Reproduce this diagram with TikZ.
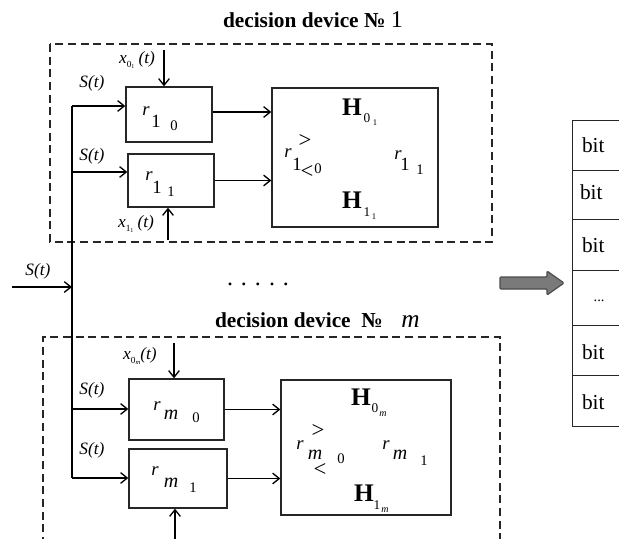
\documentclass[tikz,border=0pt]{standalone}
\usepackage{fontspec}
\setmainfont{Liberation Serif}
\usetikzlibrary{calc,arrows.meta}
\begin{document}
\begin{tikzpicture}[x=0.75pt,y=-0.75pt,
  box/.style={draw=black!85, line width=1pt, inner sep=0pt},
  arr/.style={-{Straight Barb[length=5pt,width=8pt]}, line width=1pt},
  frame/.style={draw=black!85, dash pattern=on 6pt off 3.5pt, line width=0.9pt},
  gl/.style={inner sep=0pt, outer sep=0pt},
  ri/.style={gl, font=\fontsize{14}{15}\selectfont\itshape},
  mi/.style={gl, font=\fontsize{15}{16}\selectfont\itshape},
  dg/.style={gl, font=\fontsize{14}{15}\selectfont},
  sd/.style={gl, font=\fontsize{11}{12}\selectfont},
  cmp/.style={gl, font=\fontsize{17}{18}\selectfont},
  hb/.style={gl, font=\fontsize{19}{20}\selectfont\bfseries},
  hs/.style={gl, font=\fontsize{10}{11}\selectfont},
  ht/.style={gl, font=\fontsize{6.5}{7}\selectfont},
  hm/.style={gl, font=\fontsize{7.5}{8}\selectfont\itshape},
  lab/.style={gl, font=\fontsize{13}{14}\selectfont\itshape},
  ttl/.style={gl, font=\fontsize{16}{18}\selectfont\bfseries},
  bitl/.style={gl, font=\fontsize{16}{18}\selectfont},
  row/.style={draw=black!85, line width=0.9pt, inner sep=0pt, minimum width=39.75pt}
]
\useasboundingbox (0,0) rectangle (619,539);
\clip (0,0) rectangle (619,539);

% ---------- titles ----------
\node[ttl, anchor=west] (title1) at (223,20) {decision device № \textmd{\fontsize{18}{18}\selectfont 1}};
\node[gl, font=\fontsize{18}{18}\selectfont] (dots) at (258,284) {.\hspace{6pt}.\hspace{6pt}.\hspace{6pt}.\hspace{6pt}.};
\node[ttl, anchor=west] (title2) at (215,320) {decision device\hspace{8pt}№\hspace{14pt}\textmd{\itshape\fontsize{19}{20}\selectfont m}};

% ---------- dashed frames ----------
\draw[frame] (50,44) rectangle (492,242);
\draw[frame] (43,545) -- (43,337) -- (500,337) -- (500,545);

% ---------- device 1 ----------
\node[box, minimum width=64.5pt, minimum height=41.25pt] (r10) at (169,114.5) {};
\node[box, minimum width=64.5pt, minimum height=39.75pt] (r11) at (171,180.5) {};
\node[box, minimum width=124.5pt, minimum height=104.25pt] (H1) at (355,157.5) {};

\node[ri] (r10a) at (146,111) {r};
\node[dg] (r10b) at (156,121) {1};
\node[sd] (r10c) at (174,126) {0};
\node[ri] (r11a) at (149,176) {r};
\node[dg] (r11b) at (157,187) {1};
\node[sd] (r11c) at (171,192) {1};

\node[hb] (H01) at (352,107) {H};
\node[hs] (H01s) at (367,118) {0};
\node[ht] (H01t) at (375,123) {1};
\node[hb] (H11) at (352,200) {H};
\node[hs] (H11s) at (367,212) {1};
\node[ht] (H11t) at (374,217) {1};
\node[ri] (c1r) at (288,153) {r};
\node[cmp] (c1g) at (305,141) {>};
\node[dg] (c1d) at (297,164) {1};
\node[cmp] (c1l) at (307,172) {<};
\node[sd] (c1z) at (318,169) {0};
\node[ri] (d1r) at (398,155) {r};
\node[dg] (d1d) at (405,164) {1};
\node[sd] (d1e) at (420,170) {1};

% ---------- device m ----------
\node[box, minimum width=71.25pt, minimum height=45.75pt] (rm0) at (176.5,409.5) {};
\node[box, minimum width=73.5pt, minimum height=44.25pt] (rm1) at (178,478.5) {};
\node[box, minimum width=127.5pt, minimum height=101.25pt] (Hm) at (366,447.5) {};

\node[ri] (rm0a) at (157,406) {r};
\node[mi] (rm0b) at (171,415) {m};
\node[sd] (rm0c) at (196,418) {0};
\node[ri] (rm1a) at (155,471) {r};
\node[mi] (rm1b) at (171,483) {m};
\node[sd] (rm1c) at (193,488) {1};

\node[hb] (H0m) at (361,397) {H};
\node[hs] (H0ms) at (375,408) {0};
\node[hm] (H0mt) at (383,414) {m};
\node[hb] (H1m) at (364,493) {H};
\node[hs] (H1ms) at (377,505) {1};
\node[hm] (H1mt) at (385,510) {m};
\node[ri] (cmr) at (300,445) {r};
\node[cmp] (cmg) at (318,431) {>};
\node[mi] (cmm) at (315,455) {m};
\node[cmp] (cml) at (320,470) {<};
\node[sd] (cmz) at (341,459) {0};
\node[ri] (dmr) at (386,445) {r};
\node[mi] (dmm) at (400,455) {m};
\node[sd] (dmo) at (424,461) {1};

% ---------- bus and inputs ----------
\coordinate (in) at (12,287);
\coordinate (b1) at (72,106);
\coordinate (b2) at (72,172);
\coordinate (b3) at (72,409);
\coordinate (b4) at (72,478);
\draw[line width=1pt] (b1) -- (b4);
\draw[arr] (in) -- (in -| b1);
\node[lab] (Sin) at (38,271) {S(t)};

\draw[arr] (b1) -- (b1 -| r10.west);
\draw[arr] (b2) -- (b2 -| r11.west);
\draw[arr] (b3) -- (b3 -| rm0.west);
\draw[arr] (b4) -- (b4 -| rm1.west);
\node[lab] (S1) at (92,83) {S(t)};
\node[lab] (S2) at (92,156) {S(t)};
\node[lab] (S3) at (92,390) {S(t)};
\node[lab] (S4) at (92,450) {S(t)};

\coordinate (x01) at (164,50);
\draw[arr] (x01) -- (x01 |- r10.north);
\node[lab] (x01l) at (137,60) {x\raisebox{-0.5ex}{\upshape\fontsize{7}{8}\selectfont 0\raisebox{-0.4ex}{\fontsize{4.5}{5}\selectfont 1}}\hspace{3pt}(t)};
\coordinate (x11) at (168,240);
\draw[arr] (x11) -- (x11 |- r11.south);
\node[lab] (x11l) at (136,224) {x\raisebox{-0.5ex}{\upshape\fontsize{7}{8}\selectfont 1\raisebox{-0.4ex}{\fontsize{4.5}{5}\selectfont 1}}\hspace{3pt}(t)};
\coordinate (x0m) at (174,343);
\draw[arr] (x0m) -- (x0m |- rm0.north);
\node[lab] (x0ml) at (140,356) {x\raisebox{-0.5ex}{\upshape\fontsize{7}{8}\selectfont 0\raisebox{-0.4ex}{\itshape\fontsize{5}{5}\selectfont m}}(t)};
\coordinate (x1m) at (175,545);
\draw[arr] (x1m) -- (x1m |- rm1.south);

% ---------- to decision boxes ----------
\draw[arr] (r10.east |- 0,112) -- (H1.west |- 0,112);
\draw[arr] (r11.east) -- (r11.east -| H1.west);
\draw[arr] (rm0.east) -- (rm0.east -| Hm.west);
\draw[arr] (rm1.east) -- (rm1.east -| Hm.west);

% ---------- block arrow ----------
\draw[draw=black!70, fill=black!52, line width=0.9pt, rounded corners=0.8pt]
  (500,277) -- (547,277) -- (547,271) -- (564,283) -- (547,295) -- (547,289) -- (500,289) -- cycle;

% ---------- bit table ----------
\node[row, anchor=north west, minimum height=37.5pt] (row1) at (572,120) {};
\node[row, anchor=north west, minimum height=36.75pt] (row2) at (572,170) {};
\node[row, anchor=north west, minimum height=38.25pt] (row3) at (572,219) {};
\node[row, anchor=north west, minimum height=41.25pt] (row4) at (572,270) {};
\node[row, anchor=north west, minimum height=37.5pt] (row5) at (572,325) {};
\node[row, anchor=north west, minimum height=38.25pt] (row6) at (572,375) {};
\node[bitl, anchor=west] (t1) at ($(row1.west)+(10,0)$) {bit};
\node[bitl, anchor=west] (t2) at ($(row2.west)+(8,-3)$) {bit};
\node[bitl, anchor=west] (t3) at ($(row3.west)+(10,0)$) {bit};
\node[gl, font=\fontsize{11}{12}\selectfont] (t4) at ($(row4.center)+(0,3)$) {...};
\node[bitl, anchor=west] (t5) at ($(row5.west)+(10,2)$) {bit};
\node[bitl, anchor=west] (t6) at ($(row6.west)+(10,1)$) {bit};
\end{tikzpicture}
\end{document}
